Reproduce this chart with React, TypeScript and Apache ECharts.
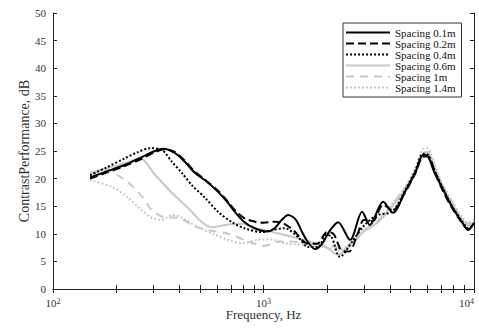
import React, { useEffect, useRef } from "react";
import * as echarts from "echarts";

const SERIES_NAMES = ["Spacing 0.1m", "Spacing 0.2m", "Spacing 0.4m", "Spacing 0.6m", "Spacing 1m", "Spacing 1.4m"];

const F_01 = [150,177,220,264,305,335,380,424,473,528,608,678,730,813,910,1040,1130,1220,1310,1420,1540,1640,1760,1900,2060,2260,2580,2940,3200,3700,4120,4700,5270,5730,6050,6500,7070,7860,8770,9390,10000];
const V_01 = [20.2,21.2,22.5,23.9,25.0,25.4,24.6,23.0,21.0,19.7,17.6,15.6,14.0,12.1,11.0,10.4,11.0,12.5,13.4,12.6,10.0,8.3,7.2,8.2,10.5,12.1,8.9,14.0,11.6,15.8,13.8,17.6,21.2,24.3,24.0,21.0,18.3,14.9,12.1,10.7,12.0];

const F_02 = [150,177,220,264,305,340,380,424,473,528,608,678,730,813,910,1000,1130,1230,1400,1600,1800,2000,2150,2350,2550,2800,3000,3300,3700,4100,4700,5270,5730,6050,6500,7070,7860,8770,9390,10000];
const V_02 = [20.0,21.0,22.3,23.6,24.8,25.3,24.8,23.2,21.2,19.8,17.8,15.8,14.3,12.8,12.2,12.0,12.2,12.0,10.5,8.3,8.2,10.3,10.0,7.0,6.8,10.0,12.5,12.3,15.3,14.2,17.5,21.0,24.0,24.0,21.3,18.0,14.7,12.0,10.8,11.5];

const F_04 = [150,177,220,253,289,329,368,410,457,528,608,708,813,985,1100,1260,1460,1630,1820,1980,2100,2310,2630,3020,3480,4080,4700,5270,5730,6050,6500,7070,7860,8770,9390,10000];
const V_04 = [20.6,21.9,23.7,24.8,25.5,25.2,23.0,21.0,18.8,16.5,14.0,12.1,11.0,10.3,10.7,11.0,9.4,7.6,7.6,9.8,9.5,5.8,8.5,11.6,13.4,14.0,17.8,21.5,24.5,24.3,21.5,18.5,15.0,12.3,11.0,11.8];

const F_06 = [150,177,220,259,305,368,438,510,570,660,790,900,1000,1200,1450,1700,2000,2260,2630,3020,3500,4200,4800,5270,5730,6050,6500,7070,7860,8770,9390,10000];
const V_06 = [21.0,21.8,22.8,23.7,20.7,17.4,14.7,12.1,11.2,11.6,11.8,11.0,10.7,10.0,9.2,8.5,7.5,6.2,8.5,10.5,12.1,15.5,18.5,21.0,24.0,24.5,22.0,18.5,15.5,12.5,11.5,12.0];

const F_10 = [150,180,213,240,268,295,340,392,467,540,680,860,1000,1200,1500,1800,2100,2400,2700,3000,3500,4200,4800,5270,5730,6050,6500,7070,7860,8770,9390,10000];
const V_10 = [20.8,21.5,20.1,18.5,16.5,14.3,13.0,12.9,11.4,10.7,10.0,8.5,7.8,8.6,8.5,8.0,7.8,7.2,8.5,10.5,12.3,15.8,18.8,21.5,24.5,24.8,22.0,18.8,15.8,12.5,11.8,12.2];

const F_14 = [150,191,227,264,295,329,368,410,488,570,678,790,940,1080,1300,1600,2000,2300,2600,3000,3500,4200,4800,5270,5700,6000,6500,7070,7860,8770,9390,10000];
const V_14 = [19.7,18.5,16.5,14.3,12.9,12.5,13.4,12.9,11.2,10.1,8.9,8.3,8.9,9.0,8.2,8.0,7.5,7.0,8.5,10.8,12.5,16.0,19.0,22.0,25.3,25.5,22.5,19.0,16.0,13.0,12.0,12.5];

const X_TICKS = [100,200,300,400,500,600,700,800,900,1000,2000,3000,4000,5000,6000,7000,8000,9000,10000];
const X_LABELS = [100, 1000, 10000];

const zip = (f: number[], v: number[]) => f.map((x, i) => [x, v[i]]);

const SERIF = "'Liberation Serif', 'Times New Roman', serif";
const AXIS_COLOR = "#222";

export default function App() {
  const ref = useRef<HTMLDivElement>(null);
  useEffect(() => {
    if (!ref.current) return;
    const chart = echarts.init(ref.current, null, { renderer: "svg" });
    const styles = [
      { color: "#000", width: 2, type: "solid" },
      { color: "#000", width: 2, type: [8, 4] },
      { color: "#000", width: 2, type: [2, 2] },
      { color: "#c8c8c8", width: 2, type: "solid" },
      { color: "#c8c8c8", width: 2, type: [8, 6] },
      { color: "#c8c8c8", width: 2, type: [2, 2] },
    ];
    const datas = [zip(F_01, V_01), zip(F_02, V_02), zip(F_04, V_04), zip(F_06, V_06), zip(F_10, V_10), zip(F_14, V_14)];
    const axisCommon = {
      axisLine: { show: true, lineStyle: { color: AXIS_COLOR, width: 1 } },
      splitLine: { show: false },
    };
    chart.setOption({
      animation: false,
      backgroundColor: "#fff",
      grid: { left: 53, right: 5, top: 13, bottom: 39, outerBoundsMode: "none", containLabel: false },
      legend: {
        orient: "vertical",
        left: 343,
        top: 23,
        data: SERIES_NAMES,
        itemWidth: 44,
        itemHeight: 8,
        itemGap: 0,
        itemTextGap: 5,
        padding: [4, 6, 4, 2],
        borderColor: "#333",
        borderWidth: 1,
        backgroundColor: "#fff",
        itemStyle: { opacity: 0 },
        textStyle: { fontFamily: SERIF, fontSize: 11, color: "#111" },
      },
      xAxis: [
        {
          type: "log",
          logBase: 10,
          min: 100,
          max: 10000,
          position: "bottom",
          ...axisCommon,
          axisTick: { show: true, inside: true, length: 4, customValues: X_TICKS, lineStyle: { color: AXIS_COLOR } },
          minorTick: { show: false },
          axisLabel: {
            show: true,
            customValues: X_LABELS,
            margin: 8,
            alignMaxLabel: "right",
            formatter: (v: number) => `{a|10}{b|${Math.round(Math.log10(v))}}`,
            rich: {
              a: { fontFamily: SERIF, fontSize: 11, lineHeight: 11, color: "#333" },
              b: { fontFamily: SERIF, fontSize: 8, lineHeight: 8, color: "#333", verticalAlign: "top" },
            },
          },
          name: "Frequency, Hz",
          nameLocation: "middle",
          nameGap: 19,
          nameMoveOverlap: false,
          nameTextStyle: { fontFamily: SERIF, fontSize: 13, color: "#333" },
        },
        {
          type: "log",
          logBase: 10,
          min: 100,
          max: 10000,
          position: "top",
          ...axisCommon,
          axisTick: { show: true, inside: true, length: 4, customValues: X_TICKS, lineStyle: { color: AXIS_COLOR } },
          axisLabel: { show: false },
        },
      ],
      yAxis: [
        {
          type: "value",
          min: 0,
          max: 50,
          interval: 5,
          position: "left",
          ...axisCommon,
          axisTick: { show: true, inside: true, length: 4, lineStyle: { color: AXIS_COLOR } },
          axisLabel: { show: true, margin: 7, fontFamily: SERIF, fontSize: 11, color: "#333" },
          name: "ContrastPerformance, dB",
          nameLocation: "middle",
          nameGap: 22,
          nameMoveOverlap: false,
          nameTextStyle: { fontFamily: SERIF, fontSize: 14, color: "#333" },
        },
        {
          type: "value",
          min: 0,
          max: 50,
          interval: 5,
          position: "right",
          ...axisCommon,
          axisTick: { show: true, inside: true, length: 4, lineStyle: { color: AXIS_COLOR } },
          axisLabel: { show: false },
        },
      ],
      series: SERIES_NAMES.map((name, i) => ({
        name,
        type: "line",
        xAxisIndex: 0,
        yAxisIndex: 0,
        data: datas[i],
        smooth: 0.3,
        symbol: "none",
        showSymbol: false,
        lineStyle: { ...styles[i], cap: "butt" },
        itemStyle: { color: styles[i].color },
        z: 10 - i,
      })),
    });
    return () => chart.dispose();
  }, []);
  return <div ref={ref} style={{ position: "fixed", left: 0, top: 0, width: 479, height: 328 }} />;
}
